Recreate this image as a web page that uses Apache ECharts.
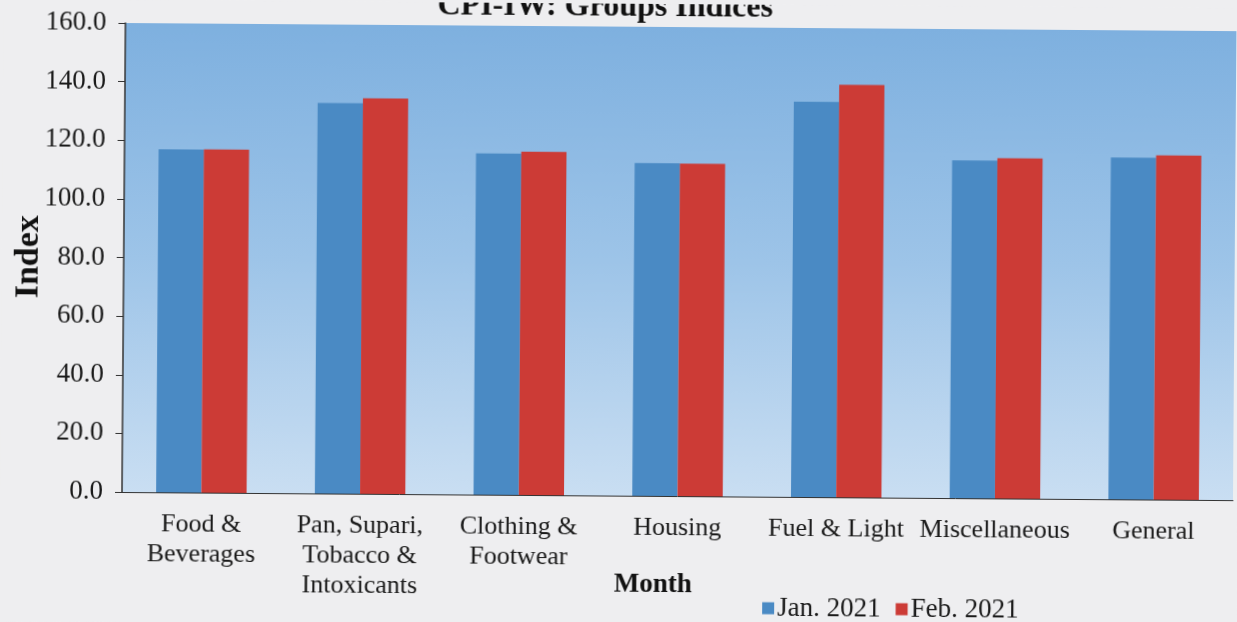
<!DOCTYPE html>
<html>
<head>
<meta charset="utf-8">
<script src="https://cdn.jsdelivr.net/npm/echarts@6/dist/echarts.min.js"></script>
<style>
  html, body { margin: 0; padding: 0; background: #eeeef0; overflow: hidden; }
  #chart { width: 1237px; height: 622px; transform: rotate(0.42deg); transform-origin: 122px 492px; }
</style>
</head>
<body>
<div id="chart"></div>
<script>
const categories = ['Food &\nBeverages', 'Pan, Supari,\nTobacco &\nIntoxicants', 'Clothing &\nFootwear', 'Housing', 'Fuel & Light', 'Miscellaneous', 'General'];
const seriesNames = ['Jan. 2021', 'Feb. 2021'];
const jan2021 = [117.0, 133.2, 116.4, 113.5, 134.8, 115.2, 116.6];
const feb2021 = [117.1, 134.9, 117.1, 113.4, 140.7, 116.1, 117.4];
const yTicks = { min: 0, max: 160, interval: 20 };

const serif = '"Liberation Serif", "Times New Roman", serif';
const chart = echarts.init(document.getElementById('chart'));
chart.setOption({
  backgroundColor: '#eeeef0',
  animation: false,
  title: {
    text: 'CPI-IW: Groups Indices',
    left: 429, top: -17,
    textStyle: { fontFamily: serif, fontWeight: 'bold', fontSize: 32, color: '#111' }
  },
  legend: {
    data: seriesNames,
    left: 758, top: 585,
    icon: 'rect', itemWidth: 12, itemHeight: 12, itemGap: 15,
    textStyle: { fontFamily: serif, fontSize: 27, color: '#1a1a1a', padding: [0, 0, 0, -2] }
  },
  grid: {
    left: 122, right: 4, top: 23, bottom: 130,
    containLabel: false,
    outerBoundsMode: 'none',
    show: true, borderWidth: 0,
    backgroundColor: new echarts.graphic.LinearGradient(0, 0, 0, 1, [
      { offset: 0, color: '#7eb0df' },
      { offset: 0.5, color: '#9dc4e8' },
      { offset: 1, color: '#c9def2' }
    ])
  },
  xAxis: {
    type: 'category',
    data: categories,
    name: 'Month',
    nameLocation: 'middle',
    nameGap: 76,
    nameMoveOverlap: false,
    nameTextStyle: { fontFamily: serif, fontWeight: 'bold', fontSize: 27, color: '#111', padding: [0, 48, 0, 0] },
    axisLine: { lineStyle: { color: '#333', width: 1 } },
    axisTick: { length: 10, lineStyle: { color: '#333' } },
    axisLabel: { fontFamily: serif, fontSize: 26, lineHeight: 30, color: '#1a1a1a', margin: 17, interval: 0 }
  },
  yAxis: {
    type: 'value',
    min: yTicks.min, max: yTicks.max, interval: yTicks.interval,
    name: 'Index',
    nameLocation: 'middle',
    nameRotate: 90,
    nameGap: 78,
    nameMoveOverlap: false,
    nameTextStyle: { fontFamily: serif, fontWeight: 'bold', fontSize: 34, color: '#111' },
    axisLine: { show: true, lineStyle: { color: '#333', width: 1.5 } },
    axisTick: { show: true, length: 7, lineStyle: { color: '#333' } },
    splitLine: { show: false },
    axisLabel: { fontFamily: serif, fontSize: 27, color: '#1a1a1a', margin: 19, formatter: v => v.toFixed(1) }
  },
  series: [
    { name: seriesNames[0], type: 'bar', data: jan2021, barGap: '0%', barCategoryGap: '43%', itemStyle: { color: '#4a8ac4' } },
    { name: seriesNames[1], type: 'bar', data: feb2021, barGap: '0%', barCategoryGap: '43%', itemStyle: { color: '#cc3b36' } }
  ]
});
</script>
</body>
</html>
